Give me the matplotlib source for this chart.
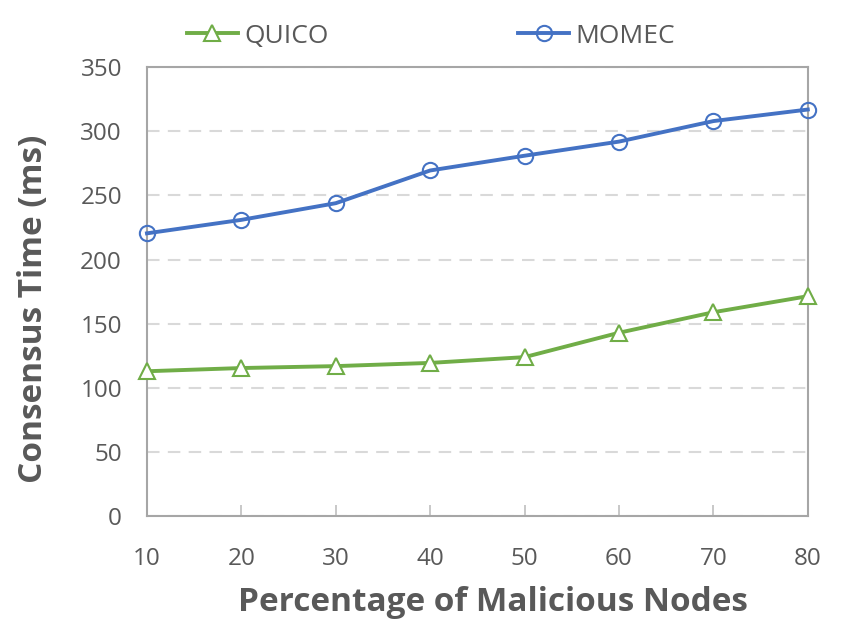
import matplotlib.pyplot as plt

x = [10, 20, 30, 40, 50, 60, 70, 80]
quico = [113, 115.5, 117, 119.5, 124, 143, 159, 171.5]
momec = [220.5, 231, 244, 269.5, 281, 292, 308, 317]

plt.rcParams['font.family'] = ['Open Sans', 'DejaVu Sans']
txt = '#595959'

fig = plt.figure(figsize=(8.53, 6.28), dpi=100)
ax = fig.add_axes([0.1723, 0.178, 0.7747, 0.715])

ax.plot(x, quico, color='#70AD47', linewidth=2.8, marker='^', markersize=11,
        markerfacecolor='white', markeredgecolor='#70AD47', markeredgewidth=1.5,
        label='QUICO', zorder=3, clip_on=False)
ax.plot(x, momec, color='#4472C4', linewidth=2.8, marker='o', markersize=11,
        markerfacecolor='none', markeredgecolor='#4472C4', markeredgewidth=1.5,
        label='MOMEC', zorder=3, clip_on=False)

ax.set_xlim(10, 80)
ax.set_ylim(0, 350)
ax.set_xticks(x)
ax.set_yticks(range(0, 351, 50))
ax.yaxis.grid(True, color='#D9D9D9', linestyle=(0, (6, 4)), linewidth=1.5)
ax.set_axisbelow(True)
for s in ax.spines.values():
    s.set_color('#A6A6A6')
    s.set_linewidth(1.5)
ax.tick_params(axis='x', direction='in', length=8, color='#BFBFBF', width=1.2,
               labelsize=17.5, labelcolor=txt, pad=22)
ax.tick_params(axis='y', length=0, labelsize=17.5, labelcolor=txt, pad=18)

ax.set_xlabel('Percentage of Malicious Nodes', fontsize=24, fontweight='bold', color=txt)
ax.xaxis.set_label_coords(0.524, -0.155)
ax.set_ylabel('Consensus Time (ms)', fontsize=24, fontweight='bold', color=txt)
ax.yaxis.set_label_coords(-0.147, 0.461)

leg = ax.legend(loc='lower center', bbox_to_anchor=(0.43, 1.0), ncol=2, frameon=False,
                fontsize=19, handlelength=1.9, columnspacing=7.2, handletextpad=0.25,
                borderaxespad=0.3)
for t in leg.get_texts():
    t.set_color(txt)

fig.savefig('out.png', dpi=100)
